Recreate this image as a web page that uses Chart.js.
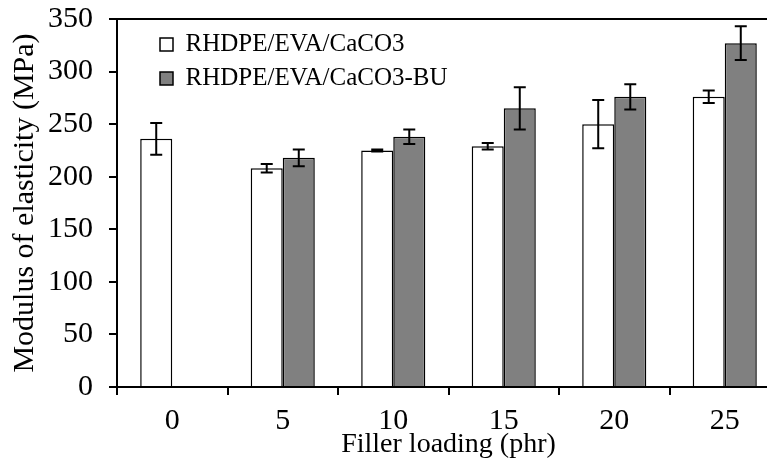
<!DOCTYPE html>
<html>
<head>
<meta charset="utf-8">
<script src="https://cdn.jsdelivr.net/npm/chart.js@4/dist/chart.umd.min.js"></script>
<style>
  html, body { margin: 0; padding: 0; background: #fff; overflow: hidden; width: 767px; height: 460px; }
  #wrap { width: 790px; height: 460px; }
</style>
</head>
<body>
<div id="wrap"><canvas id="chart" width="790" height="460"></canvas></div>
<script>
const loadings = ['0', '5', '10', '15', '20', '25'];
const caco3 = [236, 208, 225, 229, 250, 276];
const caco3Err = [15, 4, 1, 3, 23, 6];
const caco3Bu = [null, 218, 238, 265, 276, 327];
const caco3BuErr = [null, 8, 7, 20, 12, 16];
const yTicks = [0, 50, 100, 150, 200, 250, 300, 350];

const serif = '"Liberation Serif", "Times New Roman", serif';
const errors = [caco3Err, caco3BuErr];

// error bars drawn on top of each bar
const errorBars = {
  id: 'errorBars',
  afterDatasetsDraw(chart) {
    const ctx = chart.ctx;
    const y = chart.scales.y;
    ctx.save();
    ctx.strokeStyle = '#000';
    ctx.lineWidth = 2;
    chart.data.datasets.forEach((ds, i) => {
      const meta = chart.getDatasetMeta(i);
      meta.data.forEach((bar, j) => {
        const v = ds.data[j], e = errors[i][j];
        if (v == null || e == null) return;
        const top = y.getPixelForValue(v + e);
        const bot = y.getPixelForValue(v - e);
        ctx.beginPath();
        ctx.moveTo(bar.x, top); ctx.lineTo(bar.x, bot);
        ctx.moveTo(bar.x - 6, top); ctx.lineTo(bar.x + 6, top);
        ctx.moveTo(bar.x - 6, bot); ctx.lineTo(bar.x + 6, bot);
        ctx.stroke();
      });
    });
    ctx.restore();
  }
};

// top frame line + legend placed inside the plot, top left
const frame = {
  id: 'frame',
  afterLayout(chart) {
    chart.legend.left = chart.chartArea.left + 34;
    chart.legend.top = chart.chartArea.top + 4;
  },
  afterDraw(chart) {
    const { ctx, chartArea } = chart;
    ctx.save();
    ctx.strokeStyle = '#000';
    ctx.lineWidth = 2;
    ctx.beginPath();
    ctx.moveTo(chartArea.left, chartArea.top);
    ctx.lineTo(chartArea.right, chartArea.top);
    ctx.stroke();
    ctx.restore();
  }
};

new Chart(document.getElementById('chart'), {
  type: 'bar',
  data: {
    labels: loadings,
    datasets: [{
      label: 'RHDPE/EVA/CaCO3',
      data: caco3,
      backgroundColor: '#ffffff',
      borderColor: '#000000',
      borderWidth: 1.5
    }, {
      label: 'RHDPE/EVA/CaCO3-BU',
      data: caco3Bu,
      backgroundColor: '#808080',
      borderColor: '#000000',
      borderWidth: 1.5
    }]
  },
  options: {
    responsive: false,
    animation: false,
    devicePixelRatio: 1,
    categoryPercentage: 0.58,
    barPercentage: 1,
    layout: { padding: { left: 0, right: 10, top: 19, bottom: 0 } },
    plugins: {
      tooltip: { enabled: false },
      legend: {
        position: 'chartArea',
        align: 'start',
        labels: {
          color: '#000',
          boxWidth: 13,
          boxHeight: 13,
          padding: 9,
          font: { family: serif, size: 25 }
        }
      }
    },
    scales: {
      x: {
        afterFit(scale) { scale.height = 73; scale.paddingLeft = 0; scale.paddingRight = 0; },
        grid: { display: true, drawOnChartArea: false, drawTicks: true, tickLength: 8, color: '#000', lineWidth: 2, offset: true },
        border: { display: true, color: '#000', width: 2 },
        ticks: { color: '#000', padding: 8, maxRotation: 0, font: { family: serif, size: 30 } },
        title: {
          display: true,
          text: 'Filler loading (phr)',
          color: '#000',
          padding: { top: 0, bottom: 1 },
          font: { family: serif, size: 28, lineHeight: 1 }
        }
      },
      y: {
        min: 0,
        max: 350,
        afterBuildTicks(scale) { scale.ticks = yTicks.map(v => ({ value: v })); },
        afterFit(scale) { scale.width = 117; scale.paddingTop = 0; scale.paddingBottom = 0; },
        grid: { display: true, drawOnChartArea: false, drawTicks: true, tickLength: 8, color: '#000', lineWidth: 2 },
        border: { display: true, color: '#000', width: 2 },
        ticks: { color: '#000', padding: 16, font: { family: serif, size: 30 } },
        title: {
          display: true,
          text: 'Modulus of elasticity (MPa)',
          color: '#000',
          padding: { top: 10, bottom: 10 },
          font: { family: serif, size: 30, lineHeight: 1 }
        }
      }
    }
  },
  plugins: [errorBars, frame]
});
</script>
</body>
</html>
